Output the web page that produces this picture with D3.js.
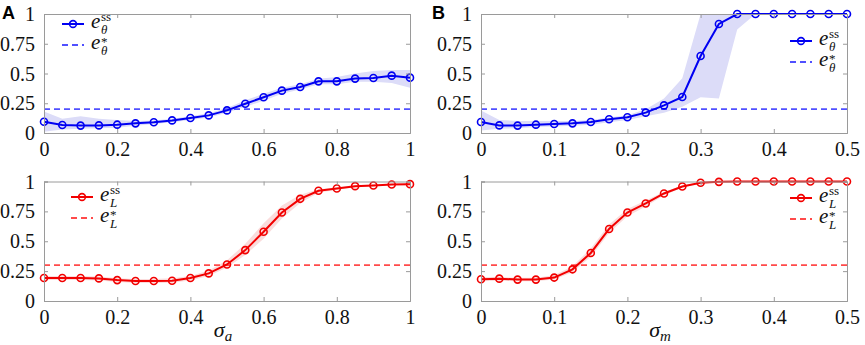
<!DOCTYPE html>
<html><head><meta charset="utf-8">
<script src="https://cdn.jsdelivr.net/npm/d3@7"></script>
<style>body{margin:0;background:#fff}svg{display:block}</style>
</head><body>
<svg id="c" width="865" height="345"></svg>
<script>
// ---------- data ----------
const sigmaA = [0,0.05,0.1,0.15,0.2,0.25,0.3,0.35,0.4,0.45,0.5,0.55,0.6,0.65,0.7,0.75,0.8,0.85,0.9,0.95,1];
const sigmaM = [0,0.025,0.05,0.075,0.1,0.125,0.15,0.175,0.2,0.225,0.25,0.275,0.3,0.325,0.35,0.375,0.4,0.425,0.45,0.475,0.5];

const eThetaA   = [0.095,0.067,0.062,0.064,0.07,0.081,0.09,0.106,0.126,0.148,0.19,0.246,0.30,0.356,0.387,0.434,0.434,0.457,0.462,0.482,0.465];
const eThetaAHi = [0.18,0.12,0.14,0.12,0.11,0.10,0.105,0.12,0.14,0.165,0.21,0.275,0.33,0.38,0.41,0.455,0.47,0.50,0.52,0.53,0.53];
const eThetaALo = [0.01,0.03,0.035,0.04,0.045,0.06,0.075,0.09,0.11,0.13,0.17,0.22,0.27,0.33,0.365,0.41,0.41,0.43,0.43,0.42,0.38];

const eLA   = [0.192,0.192,0.192,0.189,0.175,0.167,0.167,0.17,0.192,0.231,0.306,0.426,0.579,0.741,0.855,0.922,0.942,0.961,0.967,0.975,0.978];
const eLAHi = [0.21,0.21,0.21,0.205,0.19,0.185,0.185,0.19,0.21,0.255,0.34,0.48,0.65,0.80,0.89,0.935,0.95,0.97,0.975,0.98,0.985];
const eLALo = [0.175,0.175,0.175,0.172,0.16,0.15,0.15,0.152,0.172,0.21,0.28,0.385,0.52,0.69,0.82,0.905,0.93,0.952,0.96,0.97,0.972];

const eThetaB   = [0.092,0.064,0.062,0.07,0.076,0.081,0.092,0.115,0.132,0.171,0.232,0.303,0.647,0.916,1,1,1,1,1,1,1];
const eThetaBHi = [0.19,0.11,0.10,0.10,0.10,0.10,0.11,0.13,0.15,0.20,0.29,0.46,1,1,1,1,1,1,1,1,1];
const eThetaBLo = [0.02,0.035,0.04,0.05,0.055,0.06,0.07,0.09,0.11,0.14,0.17,0.22,0.30,0.29,0.87,1,1,1,1,1,1];

const eLB   = [0.182,0.187,0.179,0.179,0.196,0.265,0.402,0.603,0.74,0.816,0.9,0.958,0.989,0.997,1,1,1,1,1,1,1];
const eLBHi = [0.20,0.20,0.195,0.195,0.215,0.29,0.44,0.64,0.77,0.84,0.915,0.965,0.993,1,1,1,1,1,1,1,1];
const eLBLo = [0.165,0.17,0.165,0.165,0.18,0.24,0.37,0.57,0.71,0.79,0.885,0.95,0.985,0.995,1,1,1,1,1,1,1];

const eThetaStar = 0.2;
const eLStar = 0.3;

const xTicksA = [0,0.2,0.4,0.6,0.8,1];
const xTickLabelsA = ["0","0.2","0.4","0.6","0.8","1"];
const xTicksB = [0,0.1,0.2,0.3,0.4,0.5];
const xTickLabelsB = ["0","0.1","0.2","0.3","0.4","0.5"];
const yTicks = [0,0.25,0.5,0.75,1];
const yTickLabels = ["0","0.25","0.5","0.75","1"];

// ---------- styles ----------
const BLUE = "#0000f2", BLUE_D = "#5050ff", BLUE_F = "#dcdcf8";
const RED = "#f20000", RED_D = "#ff4a4a", RED_F = "#fadcdc";
const AXC = "#9a9a9a";
const FONT = "'Liberation Serif', 'Times New Roman', serif";

const svg = d3.select("#c");

function panel(opt) {
  const x = d3.scaleLinear().domain(opt.xDomain).range(opt.xRange);
  const y = d3.scaleLinear().domain([0,1]).range(opt.yRange);
  const g = svg.append("g");
  const [x0,x1] = opt.xRange, [y0,y1] = opt.yRange;
  const data = opt.xs.map((v,i)=>({x:v, v:opt.v[i], lo:opt.lo[i], hi:opt.hi[i]}));

  g.append("path").datum(data)
    .attr("d", d3.area().x(d=>x(d.x)).y0(d=>y(d.lo)).y1(d=>y(d.hi)))
    .attr("fill", opt.fill).attr("stroke","none");
  g.append("line").attr("x1",x0).attr("x2",x1).attr("y1",y(opt.star)).attr("y2",y(opt.star))
    .attr("stroke",opt.dcol).attr("stroke-width",1.8).attr("stroke-dasharray","6,4");
  g.append("path").datum(data)
    .attr("d", d3.line().x(d=>x(d.x)).y(d=>y(d.v)))
    .attr("fill","none").attr("stroke",opt.col).attr("stroke-width",2);
  g.selectAll("circle.m").data(data).join("circle").attr("class","m")
    .attr("cx",d=>x(d.x)).attr("cy",d=>y(d.v)).attr("r",3.5)
    .attr("fill","none").attr("stroke",opt.col).attr("stroke-width",1.6);

  const tl = 4;
  const axB = d3.axisBottom(x).tickValues(opt.xTicks).tickSize(-tl).tickFormat((d,i)=>opt.xLabels[i]).tickPadding(9);
  const axT = d3.axisTop(x).tickValues(opt.xTicks).tickSize(-tl).tickFormat("");
  const axL = d3.axisLeft(y).tickValues(yTicks).tickSize(-tl).tickFormat((d,i)=>yTickLabels[i]).tickPadding(9);
  const axR = d3.axisRight(y).tickValues(yTicks).tickSize(-tl).tickFormat("");
  const gb = g.append("g").attr("transform",`translate(0,${y0})`).call(axB);
  const gt = g.append("g").attr("transform",`translate(0,${y1})`).call(axT);
  const gl = g.append("g").attr("transform",`translate(${x0},0)`).call(axL);
  const gr = g.append("g").attr("transform",`translate(${x1},0)`).call(axR);
  [gb,gt,gl,gr].forEach(a=>{
    a.attr("font-family",null).attr("font-size",null);
    a.select(".domain").attr("stroke",AXC).attr("stroke-width",1);
    a.selectAll(".tick line").attr("stroke",AXC);
    a.selectAll("text").attr("fill","#111").style("font-family",FONT).style("font-size","20px");
  });
  gb.selectAll("text").attr("dy","0.72em");
  gl.selectAll("text").attr("dy","0.33em");

  const L = opt.legend;
  const lg = g.append("g");
  lg.append("line").attr("x1",L.x).attr("x2",L.x+22).attr("y1",L.y).attr("y2",L.y)
    .attr("stroke",opt.col).attr("stroke-width",2);
  lg.append("circle").attr("cx",L.x+11).attr("cy",L.y).attr("r",3.4)
    .attr("fill","none").attr("stroke",opt.col).attr("stroke-width",1.6);
  lg.append("line").attr("x1",L.x).attr("x2",L.x+22).attr("y1",L.y+21).attr("y2",L.y+21)
    .attr("stroke",opt.dcol).attr("stroke-width",1.8).attr("stroke-dasharray","6,4");
  const sym = (yy, sup) => {
    const tx = L.x+29;
    lg.append("text").attr("x",tx).attr("y",yy+4).text("e")
      .style("font-family",FONT).style("font-style","italic").style("font-size","21px").attr("fill","#111");
    lg.append("text").attr("x",tx+10).attr("y",yy+10).text(opt.sub)
      .style("font-family",FONT).style("font-style","italic").style("font-size","13px").attr("fill","#111");
    lg.append("text").attr("x",tx+10).attr("y",yy + (sup==="*" ? 1 : -3)).text(sup)
      .style("font-family",FONT).style("font-size","13px").attr("fill","#111");
  };
  sym(L.y, "ss");
  sym(L.y+21, "*");

  if (opt.xlab) {
    const t = g.append("text").attr("x",(x0+x1)/2 - 4).attr("y",y0+36).attr("text-anchor","middle")
      .style("font-family",FONT).style("font-style","italic").style("font-size","22px").attr("fill","#111");
    t.append("tspan").text("σ");
    t.append("tspan").attr("dy",4).style("font-size","15px").text(opt.xlab);
  }
}

const xA = [44,410], xB = [481,847];
const yTop = [133,14], yBot = [301,181.5];

panel({xs:sigmaA, v:eThetaA, lo:eThetaALo, hi:eThetaAHi, star:eThetaStar, xDomain:[0,1], xRange:xA, yRange:yTop,
  xTicks:xTicksA, xLabels:xTickLabelsA, col:BLUE, dcol:BLUE_D, fill:BLUE_F, sub:"θ", legend:{x:62,y:24}});
panel({xs:sigmaA, v:eLA, lo:eLALo, hi:eLAHi, star:eLStar, xDomain:[0,1], xRange:xA, yRange:yBot,
  xTicks:xTicksA, xLabels:xTickLabelsA, col:RED, dcol:RED_D, fill:RED_F, sub:"L", legend:{x:71,y:197}, xlab:"a"});
panel({xs:sigmaM, v:eThetaB, lo:eThetaBLo, hi:eThetaBHi, star:eThetaStar, xDomain:[0,0.5], xRange:xB, yRange:yTop,
  xTicks:xTicksB, xLabels:xTickLabelsB, col:BLUE, dcol:BLUE_D, fill:BLUE_F, sub:"θ", legend:{x:790,y:41}});
panel({xs:sigmaM, v:eLB, lo:eLBLo, hi:eLBHi, star:eLStar, xDomain:[0,0.5], xRange:xB, yRange:yBot,
  xTicks:xTicksB, xLabels:xTickLabelsB, col:RED, dcol:RED_D, fill:RED_F, sub:"L", legend:{x:790,y:198}, xlab:"m"});

svg.append("text").attr("x",2).attr("y",19).text("A")
  .style("font-family","'Liberation Sans', Arial, sans-serif").style("font-weight","bold").style("font-size","18px");
svg.append("text").attr("x",432).attr("y",19).text("B")
  .style("font-family","'Liberation Sans', Arial, sans-serif").style("font-weight","bold").style("font-size","18px");
</script>
</body></html>
